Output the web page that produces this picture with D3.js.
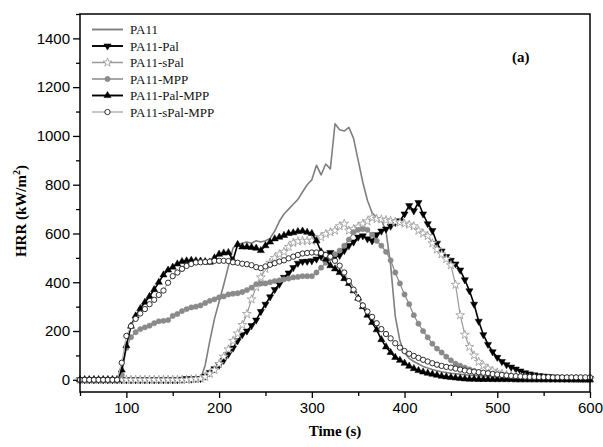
<!DOCTYPE html>
<html><head><meta charset="utf-8">
<script src="https://cdn.jsdelivr.net/npm/d3@7"></script>
<style>body{margin:0;background:#fff}svg{display:block}</style>
</head><body><svg id="c" width="603" height="447"></svg>
<script>
const times = [50,55,60,65,70,75,80,85,90,95,100,105,110,115,120,125,130,135,140,145,150,155,160,165,170,175,180,185,190,195,200,205,210,215,220,225,230,235,240,245,250,255,260,265,270,275,280,285,290,295,300,305,310,315,320,325,330,335,340,345,350,355,360,365,370,375,380,385,390,395,400,405,410,415,420,425,430,435,440,445,450,455,460,465,470,475,480,485,490,495,500,505,510,515,520,525,530,535,540,545,550,555,560,565,570,575,580,585,590,595,600];
const pa11 = [0,0,0,0,0,0,0,0,0,0, 0,0,0,0,0,0,0,0,0,0, 0,0,0,0,0,0,2,60,160,250, 320,390,465,540,555,560,565,560,570,565, 570,580,610,650,680,700,720,740,770,800, 820,880,840,885,865,1050,1025,1020,1035,990, 900,810,735,685,665,655,610,470,260,160, 110,88,75,65,55,48,42,37,33,30, 27,25,23,21,19,18,17,16,15,14, 13,12,11,11,10,10,9,9,8,8, 8,7,7,7,6,6,6,6,5,5, 5];
const pa11Pal = [0,0,0,0,0,0,0,0,0,0, 0,0,0,0,0,0,0,0,0,0, 0,0,2,5,3,5,5,15,30,45, 60,80,105,130,160,185,200,222,245,280, 310,340,370,392,420,438,460,478,485,486, 488,495,505,515,522,505,510,530,550,565, 585,590,578,570,595,610,618,630,645,652, 680,714,693,727,680,640,612,560,528,505, 490,475,450,410,365,310,240,185,145,115, 92,75,62,52,44,36,29,24,20,17, 15,13,11,10,9,8,7,6,6,5, 5];
const pa11sPal = [0,0,0,0,0,0,0,0,0,0, 0,0,0,0,0,0,0,0,0,0, 0,0,0,0,2,3,5,12,25,40, 65,95,125,160,190,225,270,330,380,420, 455,480,500,515,525,545,562,568,570,570, 570,575,585,598,605,612,630,640,612,618, 628,640,650,665,660,658,655,652,648,645, 640,636,630,612,600,590,560,535,515,495, 470,390,265,185,135,100,74,58,46,37, 30,25,20,17,14,12,10,9,8,7, 6,6,5,5,5,4,4,4,4,3, 3];
const pa11MPP = [0,0,0,0,0,0,0,0,0,20, 130,175,195,208,215,222,232,240,242,245, 262,270,282,290,297,300,305,315,324,330, 338,342,350,353,355,360,368,378,392,395, 395,400,405,408,412,415,420,422,425,425, 425,440,460,480,498,515,530,550,575,605, 615,618,615,595,570,550,525,490,440,395, 350,310,265,230,200,174,148,128,112,95, 80,66,58,50,43,37,31,26,22,19, 16,14,12,10,9,8,7,6,5,5, 4,4,3,3,3,2,2,2,1,1, 1];
const pa11PalMPP = [0,0,0,0,0,0,0,0,0,40, 140,220,262,292,318,342,370,400,430,450, 462,475,485,488,490,488,487,485,482,500, 515,520,522,490,555,545,545,543,540,530, 550,565,578,585,592,600,603,608,610,605, 600,570,525,495,468,455,440,415,395,365, 335,300,265,235,205,165,135,112,92,80, 68,56,46,38,32,27,23,19,15,12, 10,8,6,4,3,3,2,2,2,1, 1,1,1,1,0,0,0,0,0,0, 0,0,0,0,0,0,0,0,0,0, 0];
const pa11sPalMPP = [0,0,0,0,0,0,0,0,0,70, 180,220,250,272,290,310,328,348,366,398, 425,440,455,467,475,481,482,483,485,488, 488,488,487,482,480,476,474,470,462,458, 465,472,478,485,490,498,505,512,518,520, 522,522,520,512,505,488,468,440,405,370, 333,305,280,258,232,208,188,170,150,132, 118,107,98,90,82,75,68,62,57,53, 50,46,42,38,35,33,31,29,27,24, 22,20,18,16,15,14,13,12,12,11, 11,11,10,10,10,10,10,10,10,10, 10];

const seriesNames = ["PA11","PA11-Pal","PA11-sPal","PA11-MPP","PA11-Pal-MPP","PA11-sPal-MPP"];
const seriesValues = [pa11, pa11Pal, pa11sPal, pa11MPP, pa11PalMPP, pa11sPalMPP];
const xTicks = [100,200,300,400,500,600];
const yTicks = [0,200,400,600,800,1000,1200,1400];

const styles = [
  {line:"#7f7f7f", w:1.6, marker:null},
  {line:"#000", w:1.6, marker:"down", fill:"#000", stroke:"#000"},
  {line:"#9a9a9a", w:1.2, marker:"star", fill:"#fff", stroke:"#9a9a9a"},
  {line:"#8a8a8a", w:1.2, marker:"circle", fill:"#8a8a8a", stroke:"#8a8a8a"},
  {line:"#000", w:1.6, marker:"up", fill:"#000", stroke:"#000"},
  {line:"#b5b5b5", w:1.2, marker:"ocircle", fill:"#fff", stroke:"#1a1a1a"}
];

const svg = d3.select("#c");
const L=80,R=590,T=14,B=392;
const x = d3.scaleLinear().domain([50,600]).range([L,R]);
const y = d3.scaleLinear().domain([-50,1500]).range([B,T]);

function symPath(kind){
  if(kind==="down"||kind==="up") return d3.symbol().type(d3.symbolTriangle).size(22)();
  if(kind==="star") return d3.symbol().type(d3.symbolStar).size(24)();
  return d3.symbol().type(d3.symbolCircle).size(22)();
}
function drawMarker(g, kind, st, cx, cy){
  const p = g.append("path").attr("d", symPath(kind))
    .attr("fill", st.fill).attr("stroke", st.stroke).attr("stroke-width", kind==="ocircle"?0.9:(kind==="star"?0.8:0.5));
  if(kind==="down") p.attr("transform",`translate(${cx},${cy}) rotate(180)`);
  else p.attr("transform",`translate(${cx},${cy})`);
}

// axes
const fmt = d3.format("d");
const xAxis = d3.axisBottom(x).tickValues(xTicks).tickFormat(fmt).tickSize(6).tickPadding(4);
const xMinor = d3.axisBottom(x).tickValues([50,150,250,350,450,550]).tickSize(4).tickFormat("");
const yAxis = d3.axisLeft(y).tickValues(yTicks).tickFormat(fmt).tickSize(7).tickPadding(3);
const yMinor = d3.axisLeft(y).tickValues([100,300,500,700,900,1100,1300,1500]).tickSize(4).tickFormat("");

function styleAxis(g){
  g.selectAll(".domain").remove();
  g.selectAll("line").attr("stroke","#000").attr("stroke-width",1.3);
  g.selectAll("text").attr("font-family","Liberation Sans, Arial, sans-serif").attr("font-size",15).attr("fill","#000");
}
svg.append("g").attr("transform",`translate(0,${B})`).call(xAxis).call(styleAxis);
svg.append("g").attr("transform",`translate(0,${B})`).call(xMinor).call(styleAxis);
svg.append("g").attr("transform",`translate(${L},0)`).call(yAxis).call(styleAxis);
svg.append("g").attr("transform",`translate(${L},0)`).call(yMinor).call(styleAxis);

const plot = svg.append("g");
const line = d3.line().x((d,i)=>x(times[i])).y(d=>y(d));
seriesValues.forEach((vals,si)=>{
  const st = styles[si];
  plot.append("path").datum(vals).attr("d", line).attr("fill","none")
    .attr("stroke", st.line).attr("stroke-width", st.w).attr("stroke-linejoin","round");
  if(st.marker){
    const mg = plot.append("g");
    vals.forEach((v,i)=>drawMarker(mg, st.marker, st, x(times[i]), y(v)));
  }
});

// frame
svg.append("rect").attr("x",L).attr("y",T).attr("width",R-L).attr("height",B-T)
  .attr("fill","none").attr("stroke","#000").attr("stroke-width",1.5);

// legend
const lg = svg.append("g");
seriesNames.forEach((n,i)=>{
  const cy = 29.5 + i*16.5;
  const st = styles[i];
  lg.append("line").attr("x1",92).attr("x2",123).attr("y1",cy).attr("y2",cy)
    .attr("stroke",st.line).attr("stroke-width",st.w+0.3);
  if(st.marker) drawMarker(lg, st.marker, st, 107.5, cy);
  lg.append("text").attr("x",130).attr("y",cy+4.5).text(n)
    .attr("font-family","Liberation Serif, Times New Roman, serif").attr("font-size",13).attr("fill","#111");
});

svg.append("text").attr("x",512).attr("y",62).text("(a)")
  .attr("font-family","Liberation Serif, Times New Roman, serif").attr("font-weight","bold").attr("font-size",15);

// axis titles
svg.append("text").attr("x",(L+R)/2).attr("y",436).attr("text-anchor","middle")
  .attr("font-family","Liberation Serif, Times New Roman, serif").attr("font-weight","bold").attr("font-size",15).text("Time (s)");
const yt = svg.append("text").attr("transform",`translate(26,${(T+B)/2+8}) rotate(-90)`).attr("text-anchor","middle")
  .attr("font-family","Liberation Serif, Times New Roman, serif").attr("font-weight","bold").attr("font-size",15);
yt.append("tspan").text("HRR (kW/m");
yt.append("tspan").attr("font-size",10).attr("dy",-6).text("2");
yt.append("tspan").attr("dy",6).text(")");
</script></body></html>
